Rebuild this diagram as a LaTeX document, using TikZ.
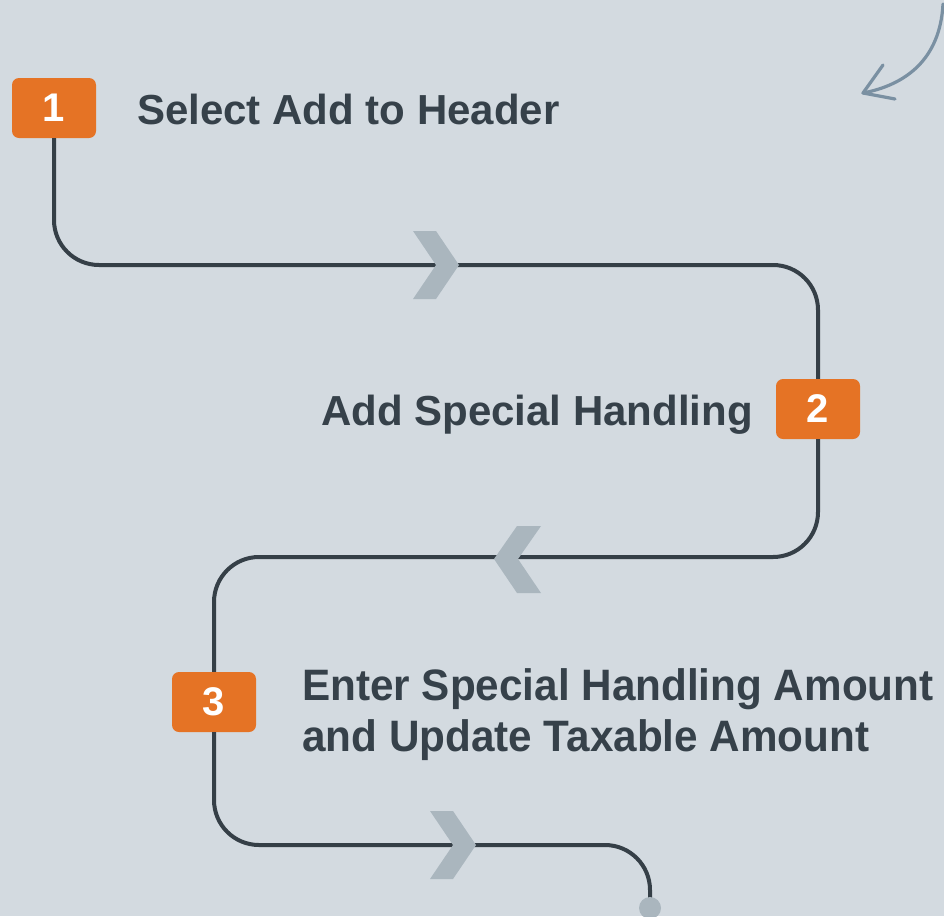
\documentclass[tikz,border=0pt]{standalone}
\usepackage{fontspec}
\setmainfont{Liberation Sans}
\newfontfamily\condfont[FakeStretch=0.96]{Liberation Sans}
\begin{document}
\begin{tikzpicture}[x=1pt,y=-1pt,
  numbox/.style={fill=boxorange,rounded corners=7pt,minimum width=84pt,minimum height=60pt,inner sep=0pt,text=white,font=\bfseries\fontsize{40}{42}\selectfont},
  label/.style={text=txt,inner sep=0pt,font=\bfseries\fontsize{42}{50}\selectfont,align=left},
  flow/.style={draw=linec,line width=4pt,rounded corners=45pt},
  chev/.style={fill=chevc},
]
\definecolor{bg}{HTML}{D3DAE0}
\definecolor{boxorange}{HTML}{E57325}
\definecolor{txt}{HTML}{36414A}
\definecolor{linec}{HTML}{353F47}
\definecolor{chevc}{HTML}{AAB6BE}
\definecolor{arrowc}{HTML}{7A90A2}
\useasboundingbox (0,0) rectangle (944,916);
\fill[bg] (0,0) rectangle (944,916);

% nodes
\node[numbox] (b1) at (54,108) {1};
\node[numbox] (b2) at (818,409) {2};
\node[numbox] (b3) at (214,702) {3};
\node[label,anchor=base west] (t1) at (137,124) {Select Add to Header};
\node[label,anchor=base west] (t2) at (321,425) {Add Special Handling};
\node[label,anchor=north west,font=\condfont\bfseries\fontsize{44}{51}\selectfont] (t3) at (302,668.5) {Enter Special Handling Amount\\and Update Taxable Amount};

\coordinate (c1) at (54,265);
\coordinate (c2) at (818,265);
\coordinate (c3) at (818,557);
\coordinate (c4) at (214,557);
\coordinate (c5) at (214,845);
\coordinate (c6) at (650,845);
\coordinate (endpt) at (650,908);

% connectors
\draw[flow] (b1.south) -- (c1) -- (c2) -- (b2.north);
\draw[flow] (b2.south) -- (c3) -- (c4) -- (b3.north);
\draw[flow] (b3.south) -- (c5) -- (c6) -- (endpt);
\fill[chevc] (endpt) circle (11pt);

% chevrons
\fill[chev] (413,231) -- (436,231) -- (459,265) -- (436,299) -- (413,299) -- (436,265) -- cycle;
\fill[chev] (541,526) -- (517,526) -- (494,559) -- (517,593) -- (541,593) -- (518,559) -- cycle;
\fill[chev] (430,811) -- (453,811) -- (476,845) -- (453,879) -- (430,879) -- (453,845) -- cycle;

% decorative arrow
\coordinate (as) at (943,4);
\coordinate (at) at (863,93);
\draw[arrowc,line width=3.2pt,line cap=round] (as) .. controls (940,60) and (905,85) .. (at);
\draw[arrowc,line width=3.2pt,line cap=round,line join=round] (883,65) -- (at) -- (895,99);
\end{tikzpicture}
\end{document}
